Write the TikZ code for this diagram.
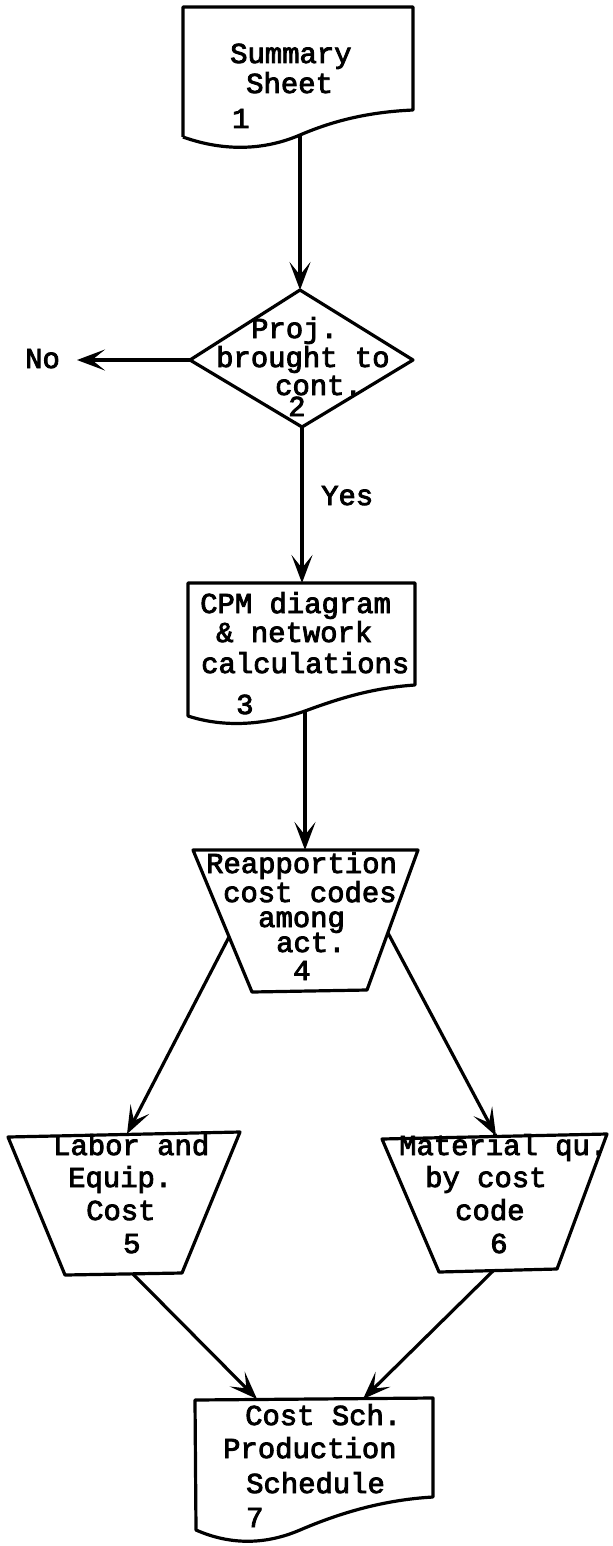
\documentclass[tikz,border=0pt]{standalone}
\usepackage{fontspec}
\setmainfont{Liberation Mono}[FakeBold=3]
\usetikzlibrary{arrows.meta}

\begin{document}
\begin{tikzpicture}[x=1bp,y=-1bp,
  outline/.style={line width=3.2bp, line join=round},
  flow/.style={line width=3.2bp, -{Stealth[length=28bp,width=21bp,inset=13bp]}},
  lbl/.style={anchor=base west, inner sep=0pt, font=\fontsize{29}{29}\selectfont},
]
\useasboundingbox (0,0) rectangle (613,1546);

% 1: document symbol
\draw[outline] (183,137) -- (183,7) -- (413,7) -- (413,110)
  .. controls (370,112) and (335,120) .. (300,135)
  .. controls (265,150) and (225,152) .. (183,137);
\coordinate (s1out) at (300,135);
\node[lbl] (t1a) at (230,63) {Summary};
\node[lbl] (t1b) at (246,93) {Sheet};
\node[lbl] (t1c) at (232,128) {1};

% 2: decision
\draw[outline] (300,290) -- (413,360) -- (302,427) -- (190,360) -- cycle;
\coordinate (d2top) at (300,290);
\coordinate (d2left) at (190,360);
\coordinate (d2bot) at (302,427);
\node[lbl] (t2a) at (251,338) {Proj.};
\node[lbl] (t2b) at (216,367) {brought to};
\node[lbl] (t2c) at (275,395) {cont.};
\node[lbl] (t2d) at (288,416) {2};
\coordinate (noend) at (77,360);
\node[lbl] (tno) at (25,368) {No};
\node[lbl] (tyes) at (321,505) {Yes};

% 3: document symbol
\draw[outline] (188,583) -- (415,583) -- (415,685)
  .. controls (370,688) and (335,700) .. (305,711)
  .. controls (265,725) and (225,728) .. (188,716) -- cycle;
\coordinate (s3in) at (302,583);
\coordinate (s3out) at (305,711);
\node[lbl] (t3a) at (200,613) {CPM diagram};
\node[lbl] (t3b) at (216,642) {\& network};
\node[lbl] (t3c) at (201,673) {calculations};
\node[lbl] (t3d) at (236,714) {3};

% 4: manual operation
\draw[outline] (193,850) -- (418,850) -- (367,990) -- (252,992) -- cycle;
\coordinate (s4in) at (305,850);
\coordinate (s4l) at (229,937);
\coordinate (s4r) at (388,933);
\node[lbl] (t4a) at (206,873) {Reapportion};
\node[lbl] (t4b) at (223,902) {cost codes};
\node[lbl] (t4c) at (258,927) {among};
\node[lbl] (t4d) at (276,952) {act.};
\node[lbl] (t4e) at (293,980) {4};

% 5: manual operation
\draw[outline] (8,1137) -- (240,1132) -- (182,1273) -- (65,1275) -- cycle;
\coordinate (s5in) at (127,1134);
\coordinate (s5out) at (133,1274);
\node[lbl] (t5a) at (53,1155) {Labor and};
\node[lbl] (t5b) at (68,1187) {Equip.};
\node[lbl] (t5c) at (86,1220) {Cost};
\node[lbl] (t5d) at (123,1253) {5};

% 6: manual operation
\draw[outline] (382,1139) -- (607,1134) -- (557,1269) -- (439,1272) -- cycle;
\coordinate (s6in) at (496,1136);
\coordinate (s6out) at (494,1270);
\node[lbl] (t6a) at (399,1155) {Material qu.};
\node[lbl] (t6b) at (425,1187) {by cost};
\node[lbl] (t6c) at (455,1220) {code};
\node[lbl] (t6d) at (490,1253) {6};

% 7: document symbol
\draw[outline] (195,1400) -- (433,1398) -- (433,1497)
  .. controls (380,1500) and (335,1515) .. (300,1530)
  .. controls (265,1545) and (230,1545) .. (196,1530) -- cycle;
\coordinate (s7l) at (257,1399);
\coordinate (s7r) at (363,1399);
\node[lbl] (t7a) at (245,1425) {Cost Sch.};
\node[lbl] (t7b) at (223,1458) {Production};
\node[lbl] (t7c) at (246,1493) {Schedule};
\node[lbl] (t7d) at (246,1527) {7};

% connectors
\draw[flow] (s1out) -- (d2top);
\draw[flow] (d2left) -- (noend);
\draw[flow] (d2bot) -- (s3in);
\draw[flow] (s3out) -- (s4in);
\draw[flow] (s4l) -- (s5in);
\draw[flow] (s4r) -- (s6in);
\draw[flow] (s5out) -- (s7l);
\draw[flow] (s6out) -- (s7r);
\end{tikzpicture}
\end{document}
